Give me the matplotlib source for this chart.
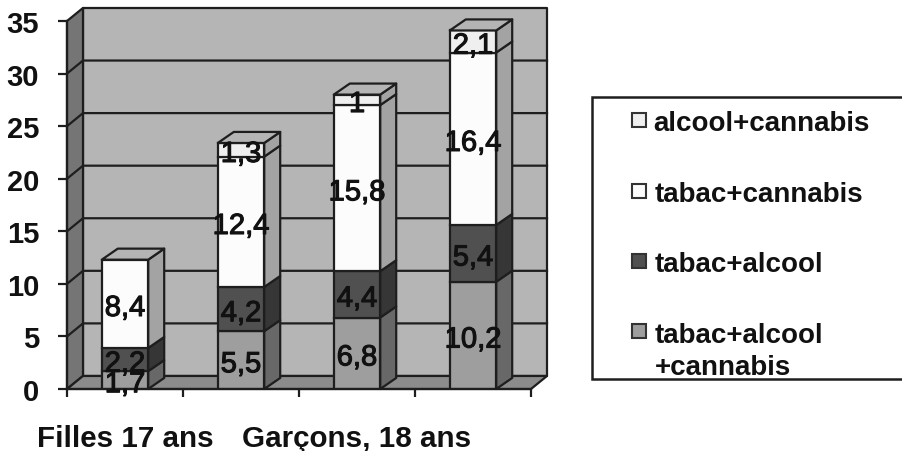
import matplotlib
matplotlib.use('Agg')
import matplotlib.pyplot as plt
import matplotlib.patheffects as pe
from matplotlib.patches import Polygon, Rectangle

plt.rcParams['font.family'] = ['Liberation Sans', 'DejaVu Sans']

# values, bottom to top of the stack
tabac_alcool_cannabis = [1.7, 5.5, 6.8, 10.2]
tabac_alcool = [2.2, 4.2, 4.4, 5.4]
tabac_cannabis = [8.4, 12.4, 15.8, 16.4]
alcool_cannabis = [0, 1.3, 1, 2.1]

bar_centers = [0.5, 1.5, 2.5, 3.5]
y_ticks = [0, 5, 10, 15, 20, 25, 30, 35]
group_pos = [0.5, 2.5]
group_labels = ['Filles 17 ans', 'Garçons, 18 ans']

series = [tabac_alcool_cannabis, tabac_alcool, tabac_cannabis, alcool_cannabis]
labels = ['tabac+alcool\n+cannabis', 'tabac+alcool', 'tabac+cannabis', 'alcool+cannabis']
front_col = ['#9e9e9e', '#505050', '#fcfcfc', '#efefef']
side_col = ['#686868', '#363636', '#a3a3a3', '#a3a3a3']
top_col = '#b4b4b4'
line_col = '#1e1e1e'

fig = plt.figure(figsize=(9.03, 4.52), dpi=100)
ax = fig.add_axes([67 / 903, (452 - 390) / 452, 464 / 903, 368 / 452])
ax.set_xlim(0, 4)
ax.set_ylim(0, 35)
ax.patch.set_visible(False)

# depth of the fake 3d box, in data units
wall_dx, wall_dy = 16 / 116, 1.24
bar_dx, bar_dy = 16 / 116, 1.05
bar_w = 0.4


def poly(pts, col, z, lw=1.6):
    ax.add_patch(Polygon(pts, closed=True, facecolor=col, edgecolor=line_col,
                         linewidth=lw, zorder=z, clip_on=False, joinstyle='round'))


# back wall, left wall, floor
poly([(wall_dx, wall_dy), (4 + wall_dx, wall_dy), (4 + wall_dx, 35 + wall_dy), (wall_dx, 35 + wall_dy)], '#b5b5b5', 1)
poly([(0, 0), (wall_dx, wall_dy), (wall_dx, 35 + wall_dy), (0, 35)], '#757575', 1)
poly([(0, 0), (4, 0), (4 + wall_dx, wall_dy), (wall_dx, wall_dy)], '#8c8c8c', 1)
for v in y_ticks[1:-1]:
    ax.plot([0, wall_dx, 4 + wall_dx], [v, v + wall_dy, v + wall_dy], color=line_col, lw=1.6, zorder=2, clip_on=False)

# stacked bars
for i, xc in enumerate(bar_centers):
    x0, x1 = xc - bar_w / 2, xc + bar_w / 2
    base = 0
    for k, vals in enumerate(series):
        v = vals[i]
        if v == 0:
            continue
        poly([(x1, base), (x1 + bar_dx, base + bar_dy), (x1 + bar_dx, base + v + bar_dy), (x1, base + v)], side_col[k], 3)
        ax.bar(xc, v, bar_w, bottom=base, color=front_col[k], edgecolor=line_col, linewidth=1.6, zorder=3)
        base += v
    poly([(x0, base), (x1, base), (x1 + bar_dx, base + bar_dy), (x0 + bar_dx, base + bar_dy)], top_col, 3)

# value labels on top of everything
for i, xc in enumerate(bar_centers):
    base = 0
    for vals in series:
        v = vals[i]
        if v == 0:
            continue
        txt = str(v).replace('.', ',')
        t = ax.annotate(txt, (xc, base + v / 2), xytext=(0, -3), textcoords='offset points', ha='center', va='center',
                        fontsize=21, color='#111111', zorder=5, annotation_clip=False)
        t.set_path_effects([pe.withStroke(linewidth=0.8, foreground='#111111')])
        base += v

for s in ['top', 'right']:
    ax.spines[s].set_visible(False)
for s in ['left', 'bottom']:
    ax.spines[s].set_linewidth(1.6)
    ax.spines[s].set_color(line_col)
    ax.spines[s].set_zorder(4)

ax.set_yticks(y_ticks)
ax.set_xticks([0, 1, 2, 3, 4])
ax.set_xticklabels([])
ax.set_xticks(group_pos, minor=True)
ax.set_xticklabels(group_labels, minor=True, fontsize=21.3, fontweight='bold', color='#111111')
ax.tick_params(axis='x', which='minor', length=0, pad=25)
ax.tick_params(axis='x', which='major', length=6, width=1.6, color=line_col)
ax.tick_params(axis='y', length=6.5, width=1.6, color=line_col, pad=13.5)
for t in ax.get_yticklabels():
    t.set_fontsize(21)
    t.set_fontweight('bold')
    t.set_color('#111111')

# legend box runs off the right side of the image
fx = lambda p: p / 903
fy = lambda p: (452 - p) / 452
fig.add_artist(Rectangle((fx(592), fy(380)), fx(330), 282 / 452, transform=fig.transFigure,
                         facecolor='white', edgecolor=line_col, linewidth=1.8))
leg_y = [333, 263, 193, 122]
leg_txt_y = [352, 265, 195, 124]
leg_txt_x = [655, 655, 655, 653]
for k in range(4):
    fig.add_artist(Rectangle((fx(632), fy(leg_y[k] + 6)), 14 / 903, 14 / 452, transform=fig.transFigure,
                             facecolor=front_col[k], edgecolor='#333333', linewidth=1.5))
    fig.text(fx(leg_txt_x[k]), fy(leg_txt_y[k]), labels[k], ha='left', va='center',
             fontsize=20, fontweight='bold', color='#111111', linespacing=1.32)

fig.savefig('out.png', dpi=100)
